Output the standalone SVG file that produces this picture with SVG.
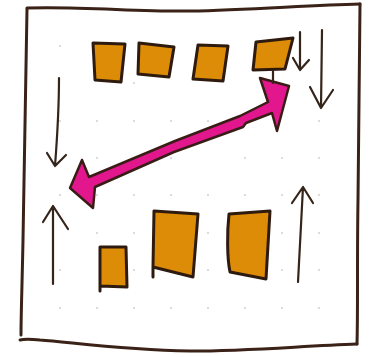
<svg xmlns="http://www.w3.org/2000/svg" width="370" height="357" viewBox="0 0 370 357">
<style>
.frame{fill:none;stroke:#3a2218;stroke-width:3;stroke-linecap:round;stroke-linejoin:round}
.box{fill:#DC8C06;stroke:#2e1a0e;stroke-width:3;stroke-linejoin:round;stroke-linecap:round}
.ar{fill:none;stroke:#35241a;stroke-width:2.2;stroke-linecap:round;stroke-linejoin:round}
.big{fill:#E2178E;stroke:#3a1c16;stroke-width:2.5;stroke-linejoin:round}
.dot{fill:#cfcfcf}
</style>
<rect width="370" height="357" fill="#ffffff"/>
<g id="grid">
<g class="dot">
<circle cx="60" cy="46" r="1"/><circle cx="134" cy="83" r="1"/><circle cx="60" cy="121" r="1"/><circle cx="97" cy="121" r="1"/><circle cx="134" cy="121" r="1"/><circle cx="171" cy="121" r="1"/><circle cx="208" cy="121" r="1"/><circle cx="245" cy="121" r="1"/><circle cx="319" cy="121" r="1"/>
<circle cx="97" cy="158" r="1"/><circle cx="134" cy="158" r="1"/><circle cx="171" cy="158" r="1"/><circle cx="245" cy="158" r="1"/><circle cx="282" cy="158" r="1"/><circle cx="319" cy="158" r="1"/>
<circle cx="60" cy="195" r="1"/><circle cx="97" cy="195" r="1"/><circle cx="134" cy="195" r="1"/><circle cx="171" cy="195" r="1"/><circle cx="208" cy="195" r="1"/><circle cx="245" cy="195" r="1"/><circle cx="282" cy="195" r="1"/><circle cx="319" cy="195" r="1"/>
<circle cx="97" cy="233" r="1"/><circle cx="134" cy="233" r="1"/><circle cx="208" cy="233" r="1"/><circle cx="282" cy="233" r="1"/><circle cx="319" cy="233" r="1"/>
<circle cx="60" cy="270" r="1"/><circle cx="134" cy="270" r="1"/><circle cx="208" cy="270" r="1"/><circle cx="282" cy="270" r="1"/><circle cx="319" cy="270" r="1"/>
<circle cx="60" cy="308" r="1"/><circle cx="97" cy="308" r="1"/><circle cx="134" cy="308" r="1"/><circle cx="171" cy="308" r="1"/><circle cx="208" cy="308" r="1"/><circle cx="245" cy="308" r="1"/><circle cx="282" cy="308" r="1"/><circle cx="319" cy="308" r="1"/>
</g>
</g>
<g id="frame">
<path class="frame" d="M27,8 C80,6 140,12 190,11 C250,10 310,5 360,4"/>
<path class="frame" d="M360,4 C359,60 359,130 358,200 C357,260 358,310 357,344"/>
<path class="frame" d="M357,344 C300,346 250,351 190,351 C120,350 70,342 40,340 C30,339 24,339 20,340"/>
<path class="frame" d="M27,9 C26,80 24,160 23,240 C22,290 21,315 21,335"/>
</g>
<g id="box1"><path class="box" d="M93,43 L125,44 L121,82 L95,80 Z"/></g>
<g id="box2"><path class="box" d="M139,43 L174,47 L169,77 L138,74 Z"/></g>
<g id="box3"><path class="box" d="M198,45 L228,46 L223,81 L193,79 Z"/></g>
<g id="box4"><path class="box" d="M256,42 L293,38 L285,69 L253,70 Z"/></g>
<g id="boxA"><path class="box" d="M100,247 L126,247 L127,287 L100,286 Z M100,286 L100,291"/></g>
<g id="boxB"><path class="box" d="M154,211 L198,214 L193,277 L153,267 Z M153,267 L153,277"/></g>
<g id="boxC"><path class="box" d="M229,214 L270,211 L266,279 L230,272 C227,258 227,232 229,214 Z"/></g>
<g id="connectors">
<path class="ar" d="M59,78 C59,110 57,140 55,166 M47,153 L55,166 L66,155"/>
<path class="ar" d="M53,284 L53,206 M43,222 L53,206 L68,229"/>
<path class="ar" d="M300,32 L300,70 M293,58 L300,70 L309,60"/>
<path class="ar" d="M322,30 L321,108 M310,87 L321,108 L333,90"/>
<path class="ar" d="M298,282 L303,187 M292,203 L303,187 L313,203"/>
<path class="big" d="M70,188 L82,160 L89,177 L175,141 L240,116 L268,102 L260,78 L289,86 L277,131 L272,113 L246,123 L243,127 L174,152 L95,187 L93,208 Z"/>
<path class="ar" d="M273,71 L273,83"/>
</g>
</svg>
